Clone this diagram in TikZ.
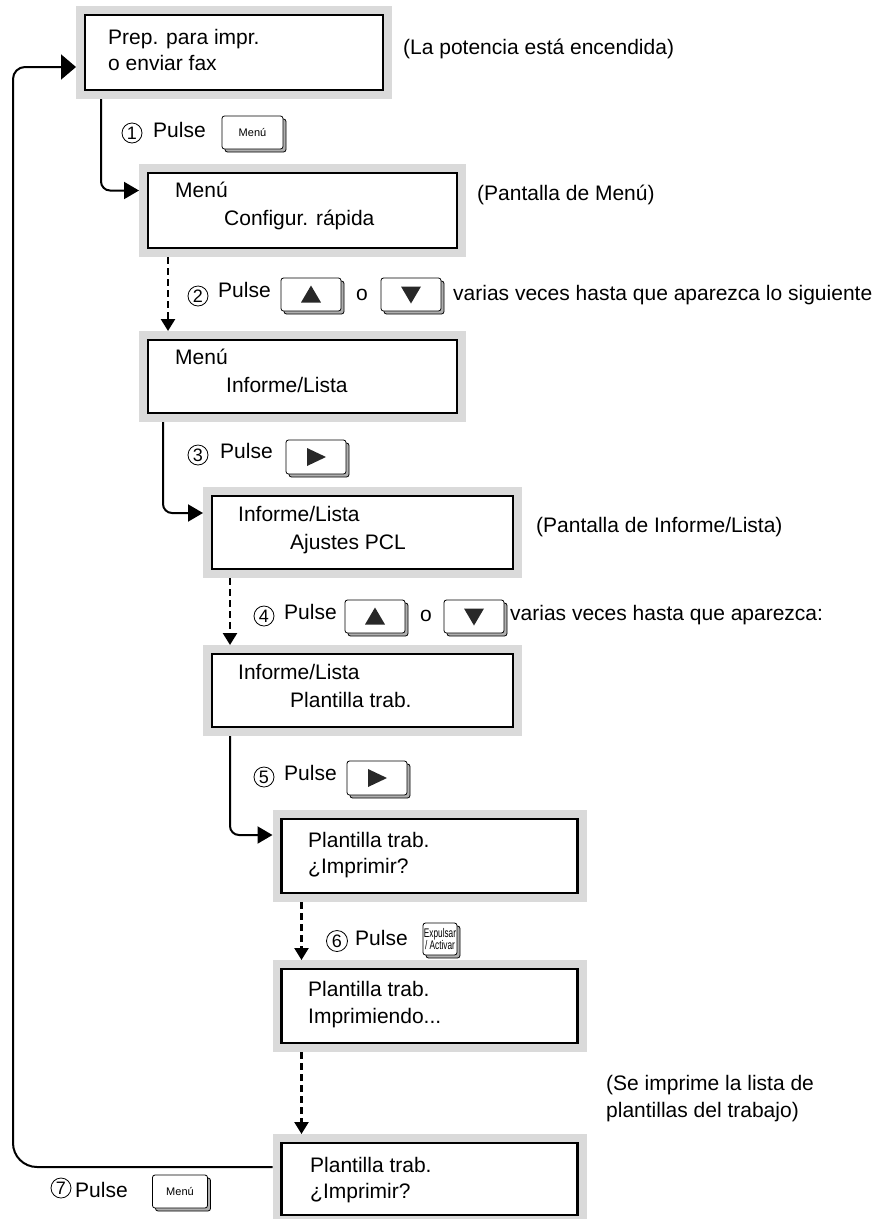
\documentclass[tikz,border=0pt]{standalone}
\usepackage{fontspec}
\setmainfont{Liberation Sans}
\usetikzlibrary{arrows.meta,shadows}
\definecolor{scrgray}{RGB}{218,218,218}
\definecolor{keygray}{RGB}{175,175,175}
\definecolor{tridark}{RGB}{40,40,40}
\begin{document}
\begin{tikzpicture}[x=1pt,y=-1pt,
  scr/.style={draw=black, line width=2.5pt, fill=white, preaction={draw=scrgray, line width=18pt}, outer sep=9pt, inner sep=0pt},
  txt/.style={font=\fontsize{21}{25}\selectfont, inner sep=0pt, anchor=base west},
  keyb/.style={draw=black, line width=0.8pt, fill=white, rounded corners=2.5pt, inner sep=0pt,
     copy shadow={shadow xshift=3pt, shadow yshift=-3pt, fill=keygray, draw=black, line width=0.8pt}},
  keysm/.style={font=\fontsize{11}{11}\selectfont},
  num/.style={circle, draw, line width=0.8pt, inner sep=0pt, minimum size=20pt, font=\fontsize{18}{18}\selectfont},
  conn/.style={line width=2pt, -{Triangle[length=15pt,width=17pt]}},
  connbig/.style={line width=2pt, -{Triangle[length=15pt,width=25pt]}},
  dconn/.style={line width=2.5pt, dash pattern=on 7pt off 4pt, -{Triangle[length=12pt,width=14pt]}},
  tri/.style={fill=tridark}
]
\useasboundingbox (0,0) rectangle (888,1219);

% screens
\node[scr, minimum width=298pt, minimum height=75pt] (B1) at (234,52.5) {};
\node[scr, minimum width=309pt, minimum height=75pt] (B2) at (302.5,210.5) {};
\node[scr, minimum width=309pt, minimum height=73pt] (B3) at (302.5,376.5) {};
\node[scr, minimum width=301pt, minimum height=73pt] (B4) at (362.5,532.5) {};
\node[scr, minimum width=301pt, minimum height=73pt] (B5) at (362.5,690.5) {};
\node[scr, minimum width=296pt, minimum height=74pt] (B6) at (429.5,856) {};
\node[scr, minimum width=296pt, minimum height=74pt] (B7) at (429.5,1006) {};
\node[scr, minimum width=296pt, minimum height=72pt] (B8) at (429.5,1179) {};

% screen texts
\node[txt] (t1a) at (108,44) {Prep. para impr.};
\node[txt] (t1b) at (108,70) {o enviar fax};
\node[txt] (t2a) at (175,197) {Menú};
\node[txt] (t2b) at (224,225) {Configur. rápida};
\node[txt] (t3a) at (175,364) {Menú};
\node[txt] (t3b) at (226,392) {Informe/Lista};
\node[txt] (t4a) at (238,521) {Informe/Lista};
\node[txt] (t4b) at (290,549) {Ajustes PCL};
\node[txt] (t5a) at (238,679) {Informe/Lista};
\node[txt] (t5b) at (290,707) {Plantilla trab.};
\node[txt] (t6a) at (308,847) {Plantilla trab.};
\node[txt] (t6b) at (308,873) {¿Imprimir?};
\node[txt] (t7a) at (308,996) {Plantilla trab.};
\node[txt] (t7b) at (308,1023) {Imprimiendo...};
\node[txt] (t8a) at (310,1172) {Plantilla trab.};
\node[txt] (t8b) at (310,1198) {¿Imprimir?};

% annotations
\node[txt] (a1) at (403,54) {(La potencia está encendida)};
\node[txt] (a2) at (477,200) {(Pantalla de Menú)};
\node[txt] (a4) at (536,532) {(Pantalla de Informe/Lista)};
\node[txt] (a7a) at (606,1090) {(Se imprime la lista de};
\node[txt] (a7b) at (606,1117) {plantillas del trabajo)};

% connectors
\draw[conn, rounded corners=9pt] ([xshift=25pt]B1.south west) |- ([yshift=20pt]B2.west);
\draw[dconn] ([xshift=29pt]B2.south west) -- ([xshift=29pt]B3.north west);
\draw[conn, rounded corners=9pt] ([xshift=24pt]B3.south west) |- ([yshift=19.5pt]B4.west);
\draw[dconn] ([xshift=27pt]B4.south west) -- ([xshift=27pt]B5.north west);
\draw[conn, rounded corners=9pt] ([xshift=27pt]B5.south west) |- ([yshift=21pt]B6.west);
\draw[dconn] ([xshift=29pt]B6.south west) -- ([xshift=29pt]B7.north west);
\draw[dconn] ([xshift=29pt]B7.south west) -- ([xshift=29pt]B8.north west);
\coordinate (R) at (13,600);
\draw[connbig, rounded corners=24pt] ([yshift=12pt]B8.west) -| (R) [rounded corners=12pt] |- ([yshift=-14.5pt]B1.west);

% step 1
\node[num] (n1) at (132,133) {1};
\node[txt] (p1) at (153,137) {Pulse};
\node[keyb, keysm, minimum width=61pt, minimum height=33pt] (k1) at (252.5,132.5) {Menú};

% step 2
\node[num] (n2) at (198,296) {2};
\node[txt] (p2) at (218,297) {Pulse};
\node[keyb, minimum width=60pt, minimum height=33pt] (k2a) at (311,294.5) {};
\fill[tri] ([shift={(-10,8)}]k2a.center) -- ([shift={(10,8)}]k2a.center) -- ([shift={(0,-9)}]k2a.center) -- cycle;
\node[txt] (o2) at (356,300) {o};
\node[keyb, minimum width=60pt, minimum height=33pt] (k2b) at (411,294.5) {};
\fill[tri] ([shift={(-10,-8)}]k2b.center) -- ([shift={(10,-8)}]k2b.center) -- ([shift={(0,9)}]k2b.center) -- cycle;
\node[txt] (v2) at (453,300) {varias veces hasta que aparezca lo siguiente};

% step 3
\node[num] (n3) at (198,455) {3};
\node[txt] (p3) at (220,458) {Pulse};
\node[keyb, minimum width=60pt, minimum height=34pt] (k3) at (316,457) {};
\fill[tri] ([shift={(-9,-9)}]k3.center) -- ([shift={(-9,9)}]k3.center) -- ([shift={(10,0)}]k3.center) -- cycle;

% step 4
\node[num] (n4) at (264,616) {4};
\node[txt] (p4) at (284,619) {Pulse};
\node[keyb, minimum width=60pt, minimum height=33pt] (k4a) at (375,616.5) {};
\fill[tri] ([shift={(-10,8)}]k4a.center) -- ([shift={(10,8)}]k4a.center) -- ([shift={(0,-9)}]k4a.center) -- cycle;
\node[txt] (o4) at (420,621) {o};
\node[keyb, minimum width=60pt, minimum height=33pt] (k4b) at (474,616.5) {};
\fill[tri] ([shift={(-10,-8)}]k4b.center) -- ([shift={(10,-8)}]k4b.center) -- ([shift={(0,9)}]k4b.center) -- cycle;
\node[txt] (v4) at (510,620) {varias veces hasta que aparezca:};

% step 5
\node[num] (n5) at (264,777) {5};
\node[txt] (p5) at (284,780) {Pulse};
\node[keyb, minimum width=60pt, minimum height=34pt] (k5) at (377,778) {};
\fill[tri] ([shift={(-9,-9)}]k5.center) -- ([shift={(-9,9)}]k5.center) -- ([shift={(10,0)}]k5.center) -- cycle;

% step 6
\node[num, minimum size=21pt] (n6) at (337,941) {6};
\node[txt] (p6) at (355,945) {Pulse};
\node[keyb, minimum width=34pt, minimum height=32pt, align=center, font=\fontsize{12.5}{8}\selectfont] (k6) at (440,939)
  {\scalebox{0.66}[1]{Expulsar}\\\scalebox{0.66}[1]{/ Activar}};

% step 7
\node[num] (n7) at (61,1188) {7};
\node[txt] (p7) at (75,1197) {Pulse};
\node[keyb, keysm, minimum width=55pt, minimum height=33pt] (k7) at (180,1191.5) {Menú};
\end{tikzpicture}
\end{document}
